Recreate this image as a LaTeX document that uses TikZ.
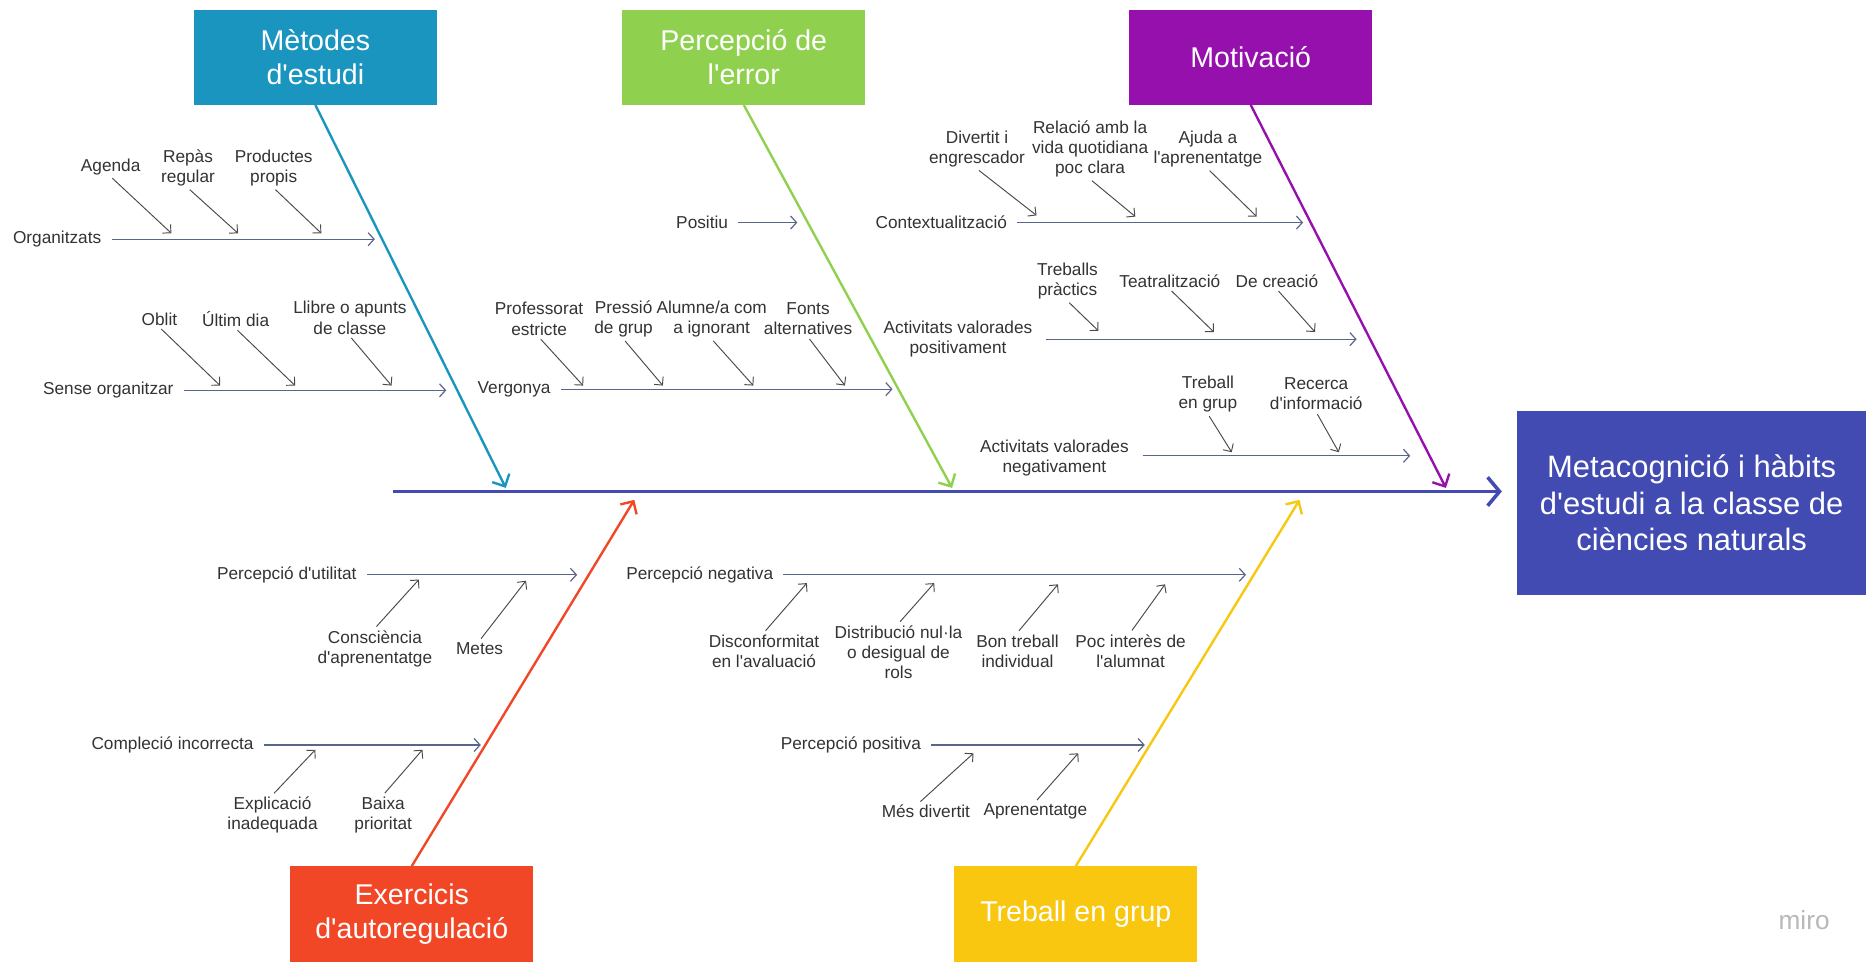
\documentclass[tikz,border=0pt]{standalone}
\usepackage{fontspec}
\setmainfont{Liberation Sans}[Ligatures=TeXOff]
\usetikzlibrary{arrows.meta}
\definecolor{cteal}{HTML}{1A95BF}
\definecolor{cgreen}{HTML}{8FD14F}
\definecolor{cpurple}{HTML}{9510AC}
\definecolor{cred}{HTML}{F24726}
\definecolor{cyellow}{HTML}{FAC710}
\definecolor{cblue}{HTML}{414BB2}
\definecolor{labelc}{HTML}{333333}
\definecolor{branchc}{HTML}{5A6687}
\definecolor{causec}{HTML}{4A4A4A}
\begin{document}
\begin{tikzpicture}[x=1pt,y=-1pt,
  lbl/.style={font=\fontsize{14.5}{17}\selectfont, text=labelc, align=center, inner sep=1.5pt},
  cat/.style={minimum width=204pt, minimum height=80pt, inner sep=0pt, text=white, align=center, font=\fontsize{24}{29}\selectfont},
  mainbox/.style={minimum width=293pt, minimum height=155pt, inner sep=0pt, text=white, align=center, fill=cblue, font=\fontsize{26}{31}\selectfont},
  branch/.style={draw=branchc, line width=1pt, -{Straight Barb[length=5pt,width=11pt]}},
  cause/.style={draw=causec, line width=0.8pt, shorten <=2pt, -{Straight Barb[length=5pt,width=10pt]}},
  bone/.style={line width=2pt, -{Straight Barb[length=8pt,width=16pt]}},
  spine/.style={draw=cblue, line width=3pt, -{Straight Barb[length=10pt,width=24pt]}}]

\fill[white] (0,0) rectangle (1568,808);
\useasboundingbox (0,0) rectangle (1568,808);

% category boxes
\node[cat,fill=cteal] (met) at (265,48) {Mètodes\\d'estudi};
\node[cat,fill=cgreen] (err) at (625,48) {Percepció de\\l'error};
\node[cat,fill=cpurple] (mot) at (1051,48) {Motivació};
\node[cat,fill=cred] (exe) at (346,768) {Exercicis\\d'autoregulació};
\node[cat,fill=cyellow] (tre) at (904,768) {Treball en grup};
\node[mainbox] (meta) at (1421.5,422.5) {Metacognició i hàbits\\d'estudi a la classe de\\ciències naturals};

% spine and bones
\coordinate (sp0) at (330,413);
\coordinate (spE) at (1262,413);
\draw[spine] (sp0) -- (spE);
\coordinate (b1) at (425,410);
\coordinate (b2) at (800,410);
\coordinate (b3) at (1215,410);
\coordinate (b4) at (533,420);
\coordinate (b5) at (1092,420);
\draw[bone,draw=cteal] (met.south) -- (b1);
\draw[bone,draw=cgreen] (err.south) -- (b2);
\draw[bone,draw=cpurple] (mot.south) -- (b3);
\draw[bone,draw=cred] (exe.north) -- (b4);
\draw[bone,draw=cyellow] (tre.north) -- (b5);

% ---- Metodes d'estudi
\node[lbl] (org) at (48,201) {Organitzats};
\coordinate (orgE) at (315,201);
\draw[branch,shorten <=7pt] (org.east) -- (orgE);
\node[lbl] (agenda) at (93,140) {Agenda};
\node[lbl] (repas) at (158,141) {Repàs\\regular};
\node[lbl] (prod) at (230,141) {Productes\\propis};
\coordinate (t1) at (144,196);
\coordinate (t2) at (200,196);
\coordinate (t3) at (270,196);
\draw[cause] (agenda.south) -- (t1);
\draw[cause] (repas.south) -- (t2);
\draw[cause] (prod.south) -- (t3);

\node[lbl] (sense) at (91,328) {Sense organitzar};
\coordinate (senseE) at (375,328);
\draw[branch,shorten <=7pt] (sense.east) -- (senseE);
\node[lbl] (oblit) at (134,268) {Oblit};
\node[lbl] (ultim) at (198,268) {Últim dia};
\node[lbl] (llibre) at (294,267) {Llibre o apunts\\de classe};
\coordinate (t4) at (185,324);
\coordinate (t5) at (248,324);
\coordinate (t6) at (329,324);
\draw[cause] (oblit.south) -- (t4);
\draw[cause] (ultim.south) -- (t5);
\draw[cause] (llibre.south) -- (t6);

% ---- Percepcio de l'error
\node[lbl] (positiu) at (590,187) {Positiu};
\coordinate (posE) at (670,187);
\draw[branch,shorten <=7pt] (positiu.east) -- (posE);

\node[lbl] (verg) at (432,327) {Vergonya};
\coordinate (vergE) at (750,327);
\draw[branch,shorten <=7pt] (verg.east) -- (vergE);
\node[lbl] (prof) at (453,268) {Professorat\\estricte};
\node[lbl] (press) at (524,268) {Pressió\\de grup};
\node[lbl] (alum) at (598,268) {Alumne/a com\\a ignorant};
\node[lbl] (fonts) at (679,268) {Fonts\\alternatives};
\coordinate (t7) at (490,324);
\coordinate (t8) at (557,324);
\coordinate (t9) at (633,324);
\coordinate (t10) at (710,324);
\draw[cause] (prof.south) -- (t7);
\draw[cause] (press.south) -- (t8);
\draw[cause] (alum.south) -- (t9);
\draw[cause] (fonts.south) -- (t10);

% ---- Motivacio
\node[lbl] (context) at (791,187) {Contextualització};
\coordinate (contE) at (1095,187);
\draw[branch,shorten <=7pt] (context.east) -- (contE);
\node[lbl] (divert) at (821,125) {Divertit i\\engrescador};
\node[lbl] (relacio) at (916,125) {Relació amb la\\vida quotidiana\\poc clara};
\node[lbl] (ajuda) at (1015,125) {Ajuda a\\l'aprenentatge};
\coordinate (t11) at (871,181);
\coordinate (t12) at (954,182);
\coordinate (t13) at (1056,182);
\draw[cause] (divert.south) -- (t11);
\draw[cause] (relacio.south) -- (t12);
\draw[cause] (ajuda.south) -- (t13);

\node[lbl] (actpos) at (805,285) {Activitats valorades\\positivament};
\coordinate (actposE) at (1140,285);
\draw[branch,shorten <=10pt] (actpos.east) -- (actposE);
\node[lbl] (trebp) at (897,236) {Treballs\\pràctics};
\node[lbl] (teatr) at (983,236) {Teatralització};
\node[lbl] (creacio) at (1073,236) {De creació};
\coordinate (t14) at (923,278);
\coordinate (t15) at (1020,279);
\coordinate (t16) at (1105,279);
\draw[cause] (trebp.south) -- (t14);
\draw[cause] (teatr.south) -- (t15);
\draw[cause] (creacio.south) -- (t16);

\node[lbl] (actneg) at (886,385) {Activitats valorades\\negativament};
\coordinate (actnegE) at (1185,383);
\draw[branch,shorten <=10pt] (actneg.east |- actnegE) -- (actnegE);
\node[lbl] (tgrup) at (1015,331) {Treball\\en grup};
\node[lbl] (recerca) at (1106,331) {Recerca\\d'informació};
\coordinate (t17) at (1035,380);
\coordinate (t18) at (1125,380);
\draw[cause] (tgrup.south) -- (t17);
\draw[cause] (recerca.south) -- (t18);

% ---- Exercicis d'autoregulacio
\node[lbl] (utilitat) at (241,483) {Percepció d'utilitat};
\coordinate (utilE) at (485,483);
\draw[branch,shorten <=7pt] (utilitat.east) -- (utilE);
\node[lbl] (consc) at (315,545) {Consciència\\d'aprenentatge};
\node[lbl] (metes) at (403,545) {Metes};
\coordinate (t19) at (352,487);
\coordinate (t20) at (442,488);
\draw[cause] (consc.north) -- (t19);
\draw[cause] (metes.north) -- (t20);

\node[lbl] (complecio) at (145,626) {Compleció incorrecta};
\coordinate (compE) at (404,626);
\draw[branch,shorten <=7pt] (complecio.east) -- (compE);
\node[lbl] (explic) at (229,685) {Explicació\\inadequada};
\node[lbl] (baixa) at (322,685) {Baixa\\prioritat};
\coordinate (t21) at (265,630);
\coordinate (t22) at (355,630);
\draw[cause] (explic.north) -- (t21);
\draw[cause] (baixa.north) -- (t22);

% ---- Treball en grup
\node[lbl] (pneg) at (588,483) {Percepció negativa};
\coordinate (pnegE) at (1047,483);
\draw[branch,shorten <=7pt] (pneg.east) -- (pnegE);
\node[lbl] (disc) at (642,547) {Disconformitat\\en l'avaluació};
\node[lbl] (distr) at (755,548) {Distribució nul·la\\o desigual de\\rols};
\node[lbl] (bon) at (855,547) {Bon treball\\individual};
\node[lbl] (poc) at (950,547) {Poc interès de\\l'alumnat};
\coordinate (t23) at (678,490);
\coordinate (t24) at (785,490);
\coordinate (t25) at (889,491);
\coordinate (t26) at (979,491);
\draw[cause] (disc.north) -- (t23);
\draw[cause] (distr.north) -- (t24);
\draw[cause] (bon.north) -- (t25);
\draw[cause] (poc.north) -- (t26);

\node[lbl] (ppos) at (715,626) {Percepció positiva};
\coordinate (pposE) at (962,626);
\draw[branch,shorten <=7pt] (ppos.east) -- (pposE);
\node[lbl] (mes) at (778,682) {Més divertit};
\node[lbl] (aprn) at (870,682) {Aprenentatge};
\coordinate (t27) at (818,633);
\coordinate (t28) at (906,633);
\draw[cause] ([xshift=-6pt]mes.north) -- (t27);
\draw[cause] (aprn.north) -- (t28);

% watermark
\node[font=\fontsize{22}{24}\selectfont, text=black!28] (miro) at (1516,773) {miro};
\end{tikzpicture}
\end{document}
